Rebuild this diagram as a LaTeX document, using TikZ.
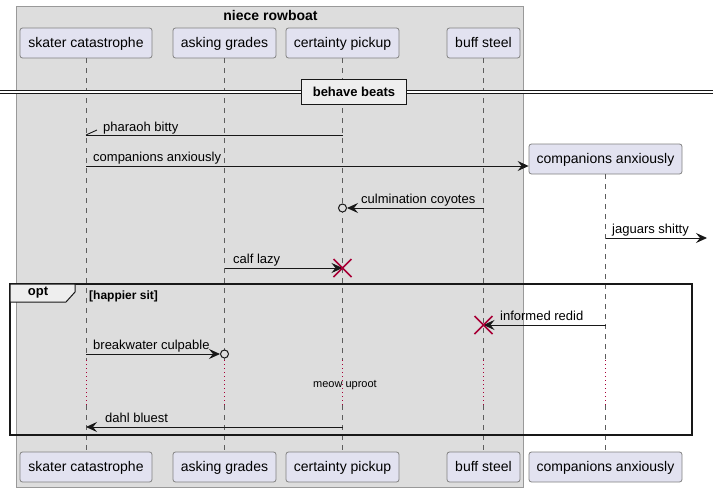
\documentclass[tikz,border=0pt]{standalone}
\usepackage{fontspec}
\setmainfont{Liberation Sans}
\usetikzlibrary{arrows.meta,positioning}
\definecolor{boxgray}{HTML}{DDDDDD}
\definecolor{tabgray}{HTML}{EEEEEE}
\definecolor{partfill}{HTML}{E2E2F0}
\definecolor{ink}{HTML}{181818}
\definecolor{crimson}{HTML}{A80036}
\tikzset{
  part/.style={draw=ink!55, line width=0.8pt, fill=partfill, rounded corners=2.5pt,
    minimum height=30pt, inner xsep=6pt, text height=12pt, text depth=2.5pt,
    font=\fontsize{14}{16}\selectfont},
  life/.style={draw=ink!70, line width=0.6pt, dash pattern=on 5pt off 5pt},
  delay/.style={draw=crimson, line width=0.8pt, dash pattern=on 1pt off 3pt},
  msg/.style={draw=ink, line width=0.9pt, -{Stealth[length=11pt,width=10pt,inset=4pt]}},
  lbl/.style={font=\fontsize{13}{15}\selectfont, inner sep=0pt, anchor=base west},
  ring/.style={circle, draw=ink, line width=1pt, fill=boxgray, minimum size=8pt, inner sep=0pt},
  gone/.style={draw=crimson, line width=1.6pt},
}
\begin{document}
\begin{tikzpicture}[x=1pt,y=-1pt]
  \useasboundingbox (0,0) rectangle (713,493);
  % the box round the first four
  \draw[draw=gray!80, line width=0.8pt, fill=boxgray] (16,6) rectangle (523,487);
  \node[font=\bfseries\fontsize{14}{16}\selectfont] (boxtitle) at (270.5,15) {niece rowboat};

  % participants, top and bottom
  \node[part, minimum width=132pt] (skater) at (86,43) {skater catastrophe};
  \node[part, minimum width=103pt] (asking) at (224.5,43) {asking grades};
  \node[part, minimum width=113pt] (pickup) at (342.5,43) {certainty pickup};
  \node[part, minimum width=73pt] (buff) at (483.5,43) {buff steel};
  \node[part, minimum width=153pt] (comp) at (605.5,159) {companions anxiously};
  \node[part, minimum width=132pt] (skater-b) at (86,467) {skater catastrophe};
  \node[part, minimum width=103pt] (asking-b) at (224.5,467) {asking grades};
  \node[part, minimum width=113pt] (pickup-b) at (342.5,467) {certainty pickup};
  \node[part, minimum width=73pt] (buff-b) at (483.5,467) {buff steel};
  \node[part, minimum width=153pt] (comp-b) at (605.5,467) {companions anxiously};

  % lifelines
  \foreach \p in {skater,asking,pickup,buff,comp} {
    \draw[life] (\p.south) -- (\p.south |- 0,360);
    \draw[delay] (\p.south |- 0,360) -- (\p.south |- 0,405);
    \draw[life] (\p.south |- 0,405) -- (\p-b.north);
  }

  % divider
  \draw[ink, line width=1pt, double=white, double distance=2.5pt] (0,92) -- (713,92);
  \node[draw=ink, line width=1.6pt, fill=tabgray, minimum width=105pt, minimum height=25pt,
    inner sep=0pt, font=\bfseries\fontsize{13}{15}\selectfont] (beats) at (354,92) {behave beats};

  % messages
  \coordinate (p1) at (pickup |- 0,135);
  \coordinate (s1) at (skater |- 0,135);
  \draw[ink, line width=0.9pt] (p1) -- (s1);
  \draw[ink, line width=0.9pt] (s1) -- ++(11,-5);
  \node[lbl] (l1) at (103,131) {pharaoh bitty};

  \coordinate (s2) at (skater |- 0,166);
  \draw[msg] (s2) -- (comp.west |- s2);
  \node[lbl] (l2) at (93,161) {companions anxiously};

  \coordinate (b3) at (buff |- 0,208);
  \node[ring] (o3) at (pickup |- 0,208) {};
  \draw[msg] (b3) -- (o3);
  \node[lbl] (l3) at (361,203) {culmination coyotes};

  \coordinate (c4) at (comp |- 0,238);
  \coordinate (lost) at (707,238);
  \draw[msg] (c4) -- (lost);
  \node[lbl] (l4) at (612,233) {jaguars shitty};

  \coordinate (a5) at (asking |- 0,268);
  \coordinate (x5) at (pickup |- 0,268);
  \draw[msg] (a5) -- (x5);
  \draw[gone] (x5) ++(-9,-9) -- ++(18,18) (x5) ++(-9,9) -- ++(18,-18);
  \node[lbl] (l5) at (233,263) {calf lazy};

  % opt group
  \draw[ink, line width=1.5pt] (10,284) rectangle (692,435);
  \draw[ink, line width=1pt, fill=tabgray] (10,284) -- (75,284) -- (75,292) -- (66,302) -- (10,302) -- cycle;
  \node[font=\bfseries\fontsize{13}{15}\selectfont] (opt) at (38,293) {opt};
  \node[lbl, font=\bfseries\fontsize{12}{14}\selectfont] (guard) at (89,299) {[happier sit]};

  \coordinate (c6) at (comp |- 0,325);
  \coordinate (x6) at (buff |- 0,325);
  \draw[msg] (c6) -- (x6);
  \draw[gone] (x6) ++(-9,-9) -- ++(18,18) (x6) ++(-9,9) -- ++(18,-18);
  \node[lbl] (l6) at (500,320) {informed redid};

  \coordinate (s7) at (skater |- 0,354);
  \node[ring] (o7) at (asking |- 0,354) {};
  \draw[msg] (s7) -- (o7);
  \node[lbl] (l7) at (93,349) {breakwater culpable};

  \node[font=\fontsize{11}{13}\selectfont, inner sep=0pt] (wait) at (345,385) {meow uproot};

  \coordinate (p8) at (pickup |- 0,427);
  \coordinate (s8) at (skater |- 0,427);
  \draw[msg] (p8) -- (s8);
  \node[lbl] (l8) at (105,422) {dahl bluest};
\end{tikzpicture}
\end{document}
